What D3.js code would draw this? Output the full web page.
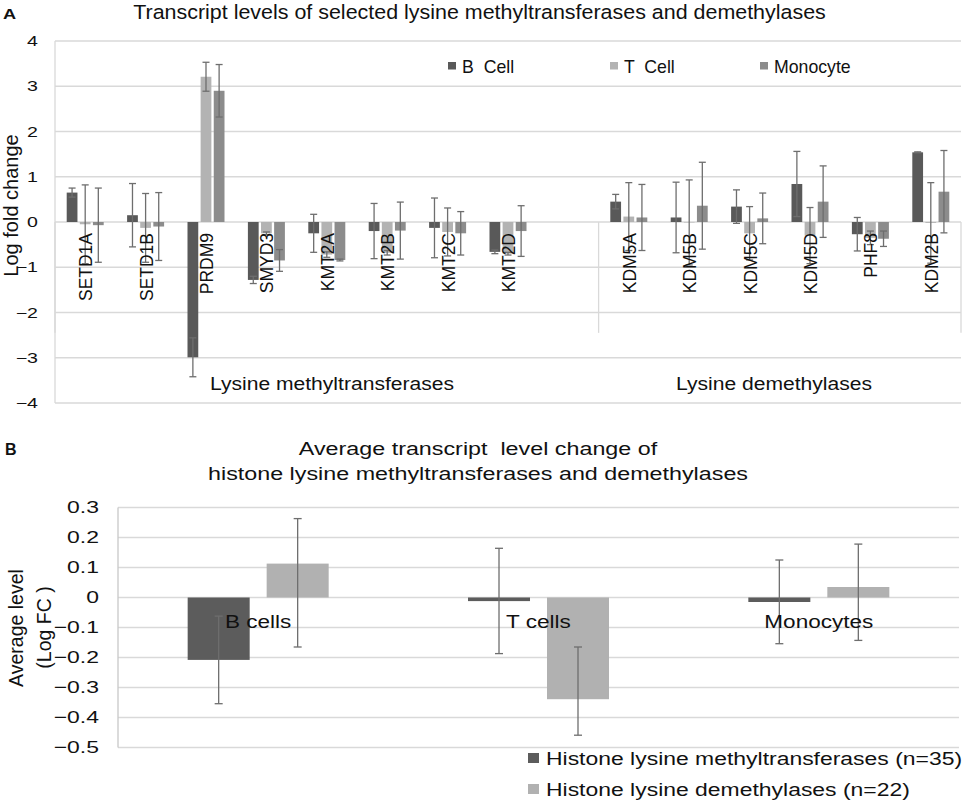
<!DOCTYPE html>
<html>
<head>
<meta charset="utf-8">
<script src="https://cdn.jsdelivr.net/npm/d3@7"></script>
<style>
  html, body { margin: 0; padding: 0; background: #fff; }
  svg { display: block; font-family: "Liberation Sans", Arial, sans-serif; }
  text { white-space: pre; }
</style>
</head>
<body>
<svg id="chart" width="965" height="803"></svg>
<script>
// ---------- Panel A data ----------
const methylGenes = ["SETD1A","SETD1B","PRDM9","SMYD3","KMT2A","KMT2B","KMT2C","KMT2D"];
const demethylGenes = ["KDM5A","KDM5B","KDM5C","KDM5D","PHF8","KDM2B"];
const seriesA = ["B  Cell","T  Cell","Monocyte"];
const bCell    = [0.65, 0.15, -2.99, -1.28, -0.25, -0.20, -0.13, -0.66, 0.45, 0.10, 0.34, 0.84, -0.27, 1.54];
const bCellErr = [0.10, 0.70, 0.43, 0.08, 0.42, 0.61, 0.66, 0.04, 0.16, 0.78, 0.37, 0.72, 0.37, 0.01];
const tCell    = [-0.05, -0.13, 3.21, -0.25, -0.72, -0.68, -0.22, -0.70, 0.12, -0.01, -0.25, -0.30, -0.35, -0.02];
const tCellErr = [0.87, 0.76, 0.32, 0.03, 0.06, 0.05, 0.53, 0.03, 0.75, 0.94, 0.59, 0.62, 0.15, 0.89];
const mono     = [-0.07, -0.10, 2.90, -0.85, -0.84, -0.19, -0.25, -0.20, 0.10, 0.36, 0.08, 0.45, -0.37, 0.67];
const monoErr  = [0.82, 0.75, 0.58, 0.24, 0.02, 0.63, 0.48, 0.56, 0.73, 0.96, 0.56, 0.79, 0.17, 0.91];
const groupLabelsA = ["Lysine methyltransferases","Lysine demethylases"];
const yTicksA = [4,3,2,1,0,-1,-2,-3,-4];

// ---------- Panel B data ----------
const cellTypes = ["B cells","T cells","Monocytes"];
const seriesB = ["Histone lysine methyltransferases (n=35)","Histone lysine demethylases (n=22)"];
const methylAvg      = [-0.208, -0.012, -0.015];
const methylErrUp    = [0.146, 0.176, 0.140];
const methylErrDown  = [0.146, 0.175, 0.139];
const demethylAvg    = [0.113, -0.339, 0.035];
const demethylErrUp  = [0.150, 0.174, 0.143];
const demethylErrDown= [0.278, 0.120, 0.178];
const yTicksB = [0.3,0.2,0.1,0,-0.1,-0.2,-0.3,-0.4,-0.5];

// ---------- styles ----------
const colA = ["#595959","#b3b3b3","#8c8c8c"];
const colB = ["#5c5c5c","#b1b1b1"];
const gridCol = "#d9d9d9";
const errCol = "#6e6e6e";
const txt = "#111";

const svg = d3.select("#chart");

// text helper: horizontal stretch sx applied in screen space
function label(sel, o) {
  const t = sel.append("text")
    .attr("transform", `translate(${o.x},${o.y}) scale(${o.sx || 1},1)` + (o.rot ? ` rotate(${o.rot})` : ""))
    .attr("text-anchor", o.anchor || "start")
    .attr("font-size", o.fs).attr("fill", txt)
    .text(o.text);
  if (o.bold) t.attr("font-weight", "bold");
  return t;
}

// ================= PANEL A =================
(function(){
  const left = 55, right = 961, top = 41, bottom = 403;
  const spacer = " ";
  const domain = methylGenes.concat([spacer]).concat(demethylGenes);
  const x0 = d3.scaleBand().domain(domain).range([left, right]).paddingInner(0).paddingOuter(0);
  const span = 37;
  const x1 = d3.scaleBand().domain(seriesA)
    .range([(x0.step()-span)/2, (x0.step()+span)/2]).paddingInner(0.18).paddingOuter(0);
  const y = d3.scaleLinear().domain([-4,4]).range([bottom, top]);
  const g = svg.append("g");

  g.selectAll("line.grid").data(yTicksA).join("line")
    .attr("x1", left).attr("x2", right)
    .attr("y1", d => y(d)).attr("y2", d => y(d))
    .attr("stroke", gridCol).attr("stroke-width", 1.3);
  g.append("line").attr("x1", left).attr("x2", left).attr("y1", y(4)).attr("y2", y(-4))
    .attr("stroke", gridCol).attr("stroke-width", 1.3);
  const divX = [left, x0(demethylGenes[0]), right];
  g.selectAll("line.div").data(divX).join("line")
    .attr("x1", d => d).attr("x2", d => d)
    .attr("y1", y(0)).attr("y2", y(-2.45))
    .attr("stroke", gridCol).attr("stroke-width", 1.3);

  const yAxis = d3.axisLeft(y).tickValues(yTicksA).tickSize(0).tickPadding(0).tickFormat(d3.format("d"));
  const ya = g.append("g").attr("transform", `translate(${left-17},0)`).call(yAxis);
  ya.select(".domain").remove();
  ya.selectAll("text").attr("font-size", 14.5).attr("fill", txt)
    .attr("font-family", "Liberation Sans, Arial, sans-serif")
    .attr("transform", "scale(1.35,1)");

  const genes = methylGenes.concat(demethylGenes);
  const vals = [bCell, tCell, mono];
  const errs = [bCellErr, tCellErr, monoErr];
  const rows = [];
  genes.forEach((gname, i) => {
    seriesA.forEach((s, j) => rows.push({gene: gname, s, j, v: vals[j][i], e: errs[j][i]}));
  });

  g.selectAll("rect.bar").data(rows).join("rect")
    .attr("x", d => x0(d.gene) + x1(d.s))
    .attr("width", x1.bandwidth())
    .attr("y", d => y(Math.max(0, d.v)))
    .attr("height", d => Math.abs(y(d.v) - y(0)))
    .attr("fill", d => colA[d.j]);

  const cap = 3.5;
  const eg = g.selectAll("g.err").data(rows).join("g")
    .attr("transform", d => `translate(${x0(d.gene) + x1(d.s) + x1.bandwidth()/2},0)`);
  eg.append("line").attr("x1",0).attr("x2",0)
    .attr("y1", d => y(d.v + d.e)).attr("y2", d => y(d.v - d.e))
    .attr("stroke", errCol).attr("stroke-width", 1.3);
  eg.append("line").attr("x1",-cap).attr("x2",cap)
    .attr("y1", d => y(d.v + d.e)).attr("y2", d => y(d.v + d.e))
    .attr("stroke", errCol).attr("stroke-width", 1.3);
  eg.append("line").attr("x1",-cap).attr("x2",cap)
    .attr("y1", d => y(d.v - d.e)).attr("y2", d => y(d.v - d.e))
    .attr("stroke", errCol).attr("stroke-width", 1.3);

  // rotated category labels
  genes.forEach(d => label(g, {x: x0(d) + x0.bandwidth()/2 + 7, y: y(0) + 11, text: d,
    fs: 17.5, sx: 1.1, rot: -90, anchor: "end"}));

  const groupCenters = [332, 774];
  groupLabelsA.forEach((d, i) => label(g, {x: groupCenters[i], y: 390, text: d, fs: 18.5, sx: 1.14, anchor: "middle"}));

  label(g, {x: 17.5, y: 205.5, text: "Log fold change", fs: 20, rot: -90, anchor: "middle"});

  label(g, {x: 479.5, y: 18.5, text: "Transcript levels of selected lysine methyltransferases and demethylases",
    fs: 19.5, sx: 1.1, anchor: "middle"});
  label(g, {x: 3, y: 18.5, text: "A", fs: 14, sx: 1.3, bold: true});

  // legend
  const legX = [448, 610, 760];
  seriesA.forEach((d, i) => {
    g.append("rect").attr("x", legX[i]).attr("y", 62).attr("width", 8).attr("height", 7.5).attr("fill", colA[i]);
    label(g, {x: legX[i] + 14, y: 73, text: d, fs: 17.7});
  });
})();

// ================= PANEL B =================
(function(){
  const left = 118, right = 959, top = 507.5, bottom = 747.5;
  const x0 = d3.scaleBand().domain(cellTypes).range([left, right]).paddingInner(0).paddingOuter(0);
  const span = 141;
  const x1 = d3.scaleBand().domain(seriesB)
    .range([(x0.step()-span)/2, (x0.step()+span)/2]).paddingInner(0.215).paddingOuter(0);
  const y = d3.scaleLinear().domain([-0.5, 0.3]).range([bottom, top]);
  const g = svg.append("g");

  g.selectAll("line.grid").data(yTicksB).join("line")
    .attr("x1", left).attr("x2", right)
    .attr("y1", d => y(d)).attr("y2", d => y(d))
    .attr("stroke", gridCol).attr("stroke-width", 1.3);
  g.append("line").attr("x1", left).attr("x2", left).attr("y1", y(0.3)).attr("y2", y(-0.5))
    .attr("stroke", "#c8c8c8").attr("stroke-width", 1.3);

  const yAxis = d3.axisLeft(y).tickValues(yTicksB).tickSize(0).tickPadding(0)
    .tickFormat(d => d === 0 ? "0" : d3.format(".1f")(d));
  const ya = g.append("g").attr("transform", `translate(${left-19},0)`).call(yAxis);
  ya.select(".domain").remove();
  ya.selectAll("text").attr("font-size", 17).attr("fill", txt)
    .attr("font-family", "Liberation Sans, Arial, sans-serif")
    .attr("transform", "scale(1.35,1)");

  const vals = [methylAvg, demethylAvg];
  const ups = [methylErrUp, demethylErrUp];
  const downs = [methylErrDown, demethylErrDown];
  const rows = [];
  cellTypes.forEach((c, i) => {
    seriesB.forEach((s, j) => rows.push({c, s, j, v: vals[j][i], up: ups[j][i], dn: downs[j][i]}));
  });

  g.selectAll("rect.bar").data(rows).join("rect")
    .attr("x", d => x0(d.c) + x1(d.s))
    .attr("width", x1.bandwidth())
    .attr("y", d => y(Math.max(0, d.v)))
    .attr("height", d => Math.max(1, Math.abs(y(d.v) - y(0))))
    .attr("fill", d => colB[d.j]);

  const cap = 4;
  const eg = g.selectAll("g.err").data(rows).join("g")
    .attr("transform", d => `translate(${x0(d.c) + x1(d.s) + x1.bandwidth()/2},0)`);
  eg.append("line").attr("x1",0).attr("x2",0)
    .attr("y1", d => y(d.v + d.up)).attr("y2", d => y(d.v - d.dn))
    .attr("stroke", errCol).attr("stroke-width", 1.3);
  eg.append("line").attr("x1",-cap).attr("x2",cap)
    .attr("y1", d => y(d.v + d.up)).attr("y2", d => y(d.v + d.up))
    .attr("stroke", errCol).attr("stroke-width", 1.3);
  eg.append("line").attr("x1",-cap).attr("x2",cap)
    .attr("y1", d => y(d.v - d.dn)).attr("y2", d => y(d.v - d.dn))
    .attr("stroke", errCol).attr("stroke-width", 1.3);

  cellTypes.forEach(d => label(g, {x: x0(d) + x0.bandwidth()/2, y: 628, text: d, fs: 18.5, sx: 1.22, anchor: "middle"}));

  label(g, {x: 22.5, y: 628, text: "Average level", fs: 19.5, rot: -90, anchor: "middle"});
  label(g, {x: 51, y: 627.5, text: "(Log FC )", fs: 19.5, rot: -90, anchor: "middle"});

  label(g, {x: 478, y: 455, text: "Average transcript  level change of", fs: 18.5, sx: 1.26, anchor: "middle"});
  label(g, {x: 478, y: 480, text: "histone lysine methyltransferases and demethylases", fs: 18.5, sx: 1.26, anchor: "middle"});
  label(g, {x: 5, y: 455, text: "B", fs: 16, bold: true});

  seriesB.forEach((d, i) => {
    g.append("rect").attr("x", 528).attr("y", 753 + i*31).attr("width", 11).attr("height", 10).attr("fill", colB[i]);
    label(g, {x: 546, y: 765 + i*31, text: d, fs: 18.5, sx: 1.24});
  });
})();
</script>
</body>
</html>
